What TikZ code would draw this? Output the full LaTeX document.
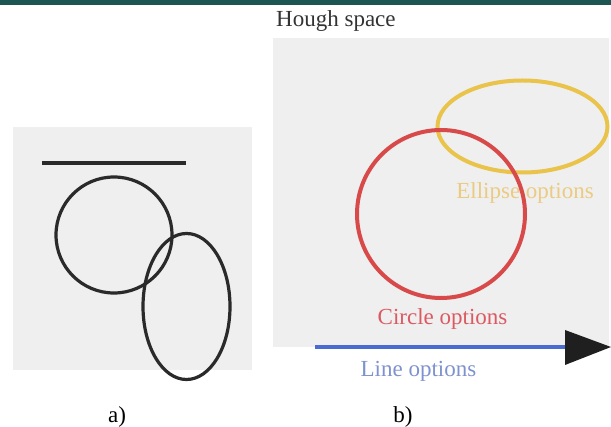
\documentclass[tikz,border=0pt]{standalone}
\usepackage{fontspec}
\setmainfont{Liberation Serif}
\begin{document}
\begin{tikzpicture}[x=1pt,y=-1pt,
  panel/.style={fill=panelgray,draw=none},
  lbl/.style={inner sep=0pt,font=\fontsize{23}{27}\selectfont},
  shapeline/.style={draw=darkline,line width=3.2pt}]
\definecolor{panelgray}{HTML}{EFEFEF}
\definecolor{darkline}{HTML}{2A2A2A}
\definecolor{teal}{HTML}{1D5552}
\definecolor{circred}{HTML}{D84A4A}
\definecolor{ellyellow}{HTML}{E9C34A}
\definecolor{lineblue}{HTML}{4A6CD2}
\definecolor{txtred}{HTML}{DB5A62}
\definecolor{txtblue}{HTML}{7F92D0}
\definecolor{txtyellow}{HTML}{EBCB82}
\useasboundingbox (0,0) rectangle (611,427);
\fill[white] (0,0) rectangle (611,427);
% top bar
\fill[teal] (0,0) rectangle (611,5);
% panel a
\fill[panel] (13,127) rectangle (252,370);
\draw[darkline,line width=4pt] (42,163) -- (186,163);
\draw[shapeline] (114,235) circle (58);
\draw[shapeline] (186.5,306.5) ellipse [x radius=43.5, y radius=73];
\node[lbl,anchor=base] (la) at (117,423) {a)};
% panel b
\node[lbl,anchor=base west,text=black!80] (title) at (276,27) {Hough space};
\fill[panel] (273,38) rectangle (609,347);
\node[lbl,anchor=base,text=txtyellow] (ellt) at (525,199) {Ellipse options};
\draw[ellyellow,line width=4pt] (522.5,126.5) ellipse [x radius=85, y radius=46];
\draw[circred,line width=4pt] (441,214) circle (84);
\node[lbl,anchor=base,text=txtred] (cirt) at (442.5,325) {Circle options};
\coordinate (ls) at (315,347);
\coordinate (le) at (566,347);
\draw[lineblue,line width=3.6pt] (ls) -- (le);
\fill[black!88] (565,330) -- (611,347) -- (565,365) -- cycle;
\node[lbl,anchor=base,text=txtblue] (lint) at (418.5,377) {Line options};
\node[lbl,anchor=base] (lb) at (403,423) {b)};
\end{tikzpicture}
\end{document}
